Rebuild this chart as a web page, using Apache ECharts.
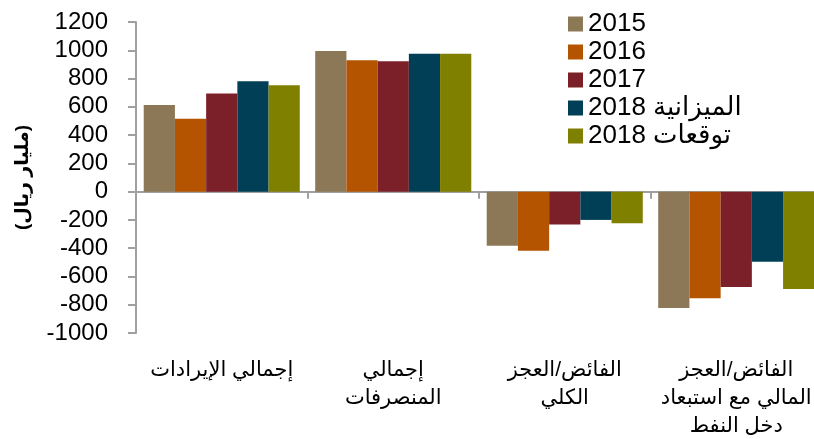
<!DOCTYPE html>
<html>
<head>
<meta charset="utf-8">
<script src="https://cdn.jsdelivr.net/npm/echarts@6/dist/echarts.min.js"></script>
<style>
html, body { margin: 0; padding: 0; background: #fff; }
#main { width: 814px; height: 439px; }
</style>
</head>
<body>
<div id="main"></div>
<script>
var categories = ['إجمالي الإيرادات', 'إجمالي\nالمنصرفات', 'الفائض/العجز\nالكلي', 'الفائض/العجز\nالمالي مع استبعاد\nدخل النفط'];
var seriesNames = ['2015', '2016', '2017', '2018 الميزانية', '2018 توقعات'];
var colors = ['#8c7856', '#b55400', '#7b2029', '#003f55', '#7f7f00'];
var v2015 = [612, 995, -383, -823];
var v2016 = [516, 929, -419, -755];
var v2017 = [695, 922, -233, -675];
var v2018b = [780, 975, -200, -496];
var v2018f = [753, 975, -223, -689];
var yTicks = { min: -1000, max: 1200, interval: 200 };

var allValues = [v2015, v2016, v2017, v2018b, v2018f];
var font = 'Liberation Sans, Arial, DejaVu Sans, sans-serif';

var myChart = echarts.init(document.getElementById('main'));
var series = [];
for (var i = 0; i < seriesNames.length; i++) {
    series.push({
        name: seriesNames[i],
        type: 'bar',
        xAxisIndex: 0,
        barGap: '0%',
        barCategoryGap: '9%',
        itemStyle: { color: colors[i] },
        data: allValues[i]
    });
}
option = {
    animation: false,
    textStyle: { fontFamily: font },
    grid: { left: 136, width: 686, top: 22, bottom: 106, outerBoundsMode: 'none', containLabel: false },
    legend: {
        orient: 'vertical',
        left: 568,
        top: 10,
        padding: 0,
        itemGap: 0,
        itemWidth: 15,
        itemHeight: 15,
        icon: 'rect',
        textStyle: { fontSize: 26, lineHeight: 28, color: '#000', fontFamily: font },
        data: seriesNames
    },
    xAxis: [
        {
            type: 'category',
            position: 'bottom',
            data: categories,
            axisLine: { show: false, onZero: false },
            axisTick: { show: false },
            axisLabel: { interval: 0, margin: 23, fontSize: 21, lineHeight: 28, color: '#000', fontFamily: font }
        },
        {
            type: 'category',
            position: 'top',
            data: categories,
            axisLine: { show: true, onZero: true, onZeroAxisIndex: 0, lineStyle: { color: '#a0a0a0', width: 2 } },
            axisTick: { show: true, inside: true, length: 7, lineStyle: { color: '#a0a0a0', width: 2 } },
            axisLabel: { show: false }
        }
    ],
    yAxis: {
        type: 'value',
        min: yTicks.min,
        max: yTicks.max,
        interval: yTicks.interval,
        name: '(مليار ريال)',
        nameLocation: 'middle',
        nameRotate: 90,
        nameGap: 104,
        nameTextStyle: { fontSize: 19, fontWeight: 'bold', color: '#000', fontFamily: font },
        axisLine: { show: true, lineStyle: { color: '#a0a0a0', width: 2 } },
        axisTick: { show: true, length: 8, lineStyle: { color: '#a0a0a0', width: 2 } },
        splitLine: { show: false },
        axisLabel: {
            margin: 28, fontSize: 24, color: '#000', fontFamily: font,
            formatter: function (v) { return String(v); }
        }
    },
    series: series
};
myChart.setOption(option);
</script>
</body>
</html>
